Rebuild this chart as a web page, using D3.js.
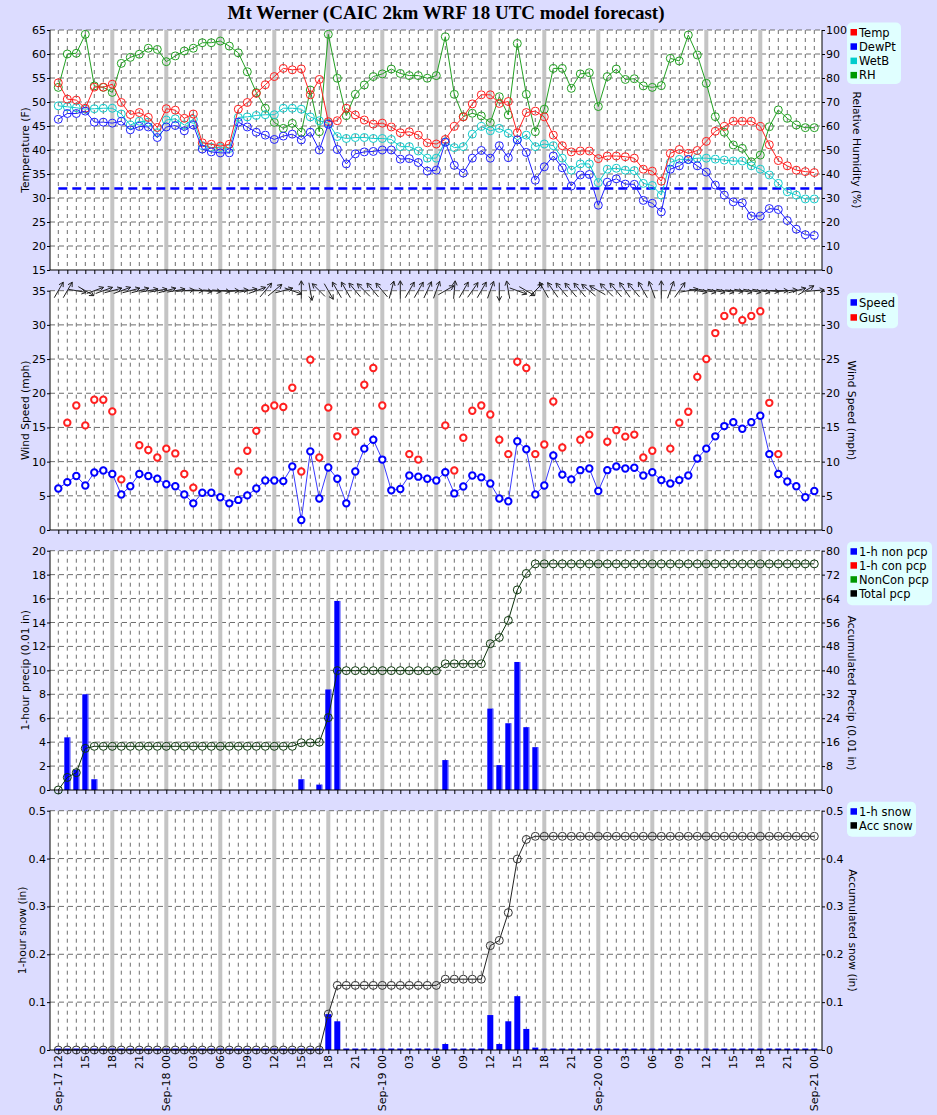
<!DOCTYPE html>
<html><head><meta charset="utf-8">
<script src="https://cdn.jsdelivr.net/npm/d3@7"></script>
<style>
body{margin:0;background:#dcdcff;}
svg{display:block;}
text{font-family:"DejaVu Sans",Verdana,sans-serif;}
</style></head><body>
<svg id="c" width="937" height="1115"></svg>
<script>
// ---------------- data ----------------
const hourIndex = d3.range(85); // Sep-17 12 UTC .. Sep-21 00 UTC, hourly
const tickLabels = ["Sep-17 12","15","18","21","Sep-18 00","03","06","09","12","15","18","21","Sep-19 00","03","06","09","12","15","18","21","Sep-20 00","03","06","09","12","15","18","21","Sep-21 00"];

const temp = [54.0,50.6,50.4,48.7,53.1,53.1,53.7,49.9,47.4,47.8, 46.8,44.7,48.6,48.3,46.6,47.5,41.5,41.2,40.8,41.2, 48.5,49.9,51.8,53.6,55.3,57.0,56.7,56.9,51.5,54.7, 45.9,46.1,48.7,47.3,46.25,45.4,45.6,44.8,43.6,43.8, 43.1,41.5,41.25,42.2,44.9,46.9,49.6,51.5,51.5,49.7, 50.1,43.6,47.8,48.1,46.9,43.1,40.9,39.6,39.8,39.8, 38.2,38.75,38.75,38.6,38.3,36.0,35.6,33.5,39.3,40.1, 39.3,39.9,41.8,43.9,44.9,46.0,46.0,46.0,44.9,41.1, 37.8,36.7,35.8,35.5,35.3];
const dewpt = [46.4,47.6,47.6,48.1,45.8,45.8,45.6,46.0,44.2,44.9, 44.8,42.6,44.8,45.1,44.0,45.2,40.2,39.6,39.4,39.4, 45.8,44.8,43.7,43.1,42.2,42.9,43.3,42.1,43.7,40.0, 45.35,40.1,37.1,39.2,39.6,39.7,40.0,40.0,38.1,38.2, 37.4,35.6,35.8,41.6,36.8,35.2,38.3,39.9,38.3,40.9, 38.4,42.1,39.5,33.7,36.5,38.75,36.3,32.5,34.8,34.9, 28.5,33.3,34.0,32.9,32.85,29.5,28.9,27.1,36.0,36.7, 38.0,36.7,35.4,32.7,30.6,29.2,29.0,26.25,26.25,27.8, 27.6,25.3,23.5,22.35,22.2];
const wetb = [49.2,49.0,48.8,48.5,48.6,48.7,48.7,47.5,45.2,46.0, 45.8,43.6,46.25,46.5,45.2,46.4,40.9,40.55,40.5,40.3, 46.8,46.9,47.2,47.35,47.35,48.7,48.7,48.5,46.9,46.1, 45.6,42.8,42.4,42.6,42.6,42.4,42.4,42.2,40.7,40.7, 39.8,38.3,38.3,41.7,40.5,40.7,43.3,44.9,44.0,44.5, 43.5,42.1,43.1,40.7,41.25,40.9,38.3,35.8,37.1,37.1, 33.2,36.0,36.2,35.8,35.7,33.05,32.6,30.6,37.4,38.05, 38.05,38.3,38.3,38.1,37.9,37.7,37.7,36.7,36.0,34.8, 33.05,31.3,30.6,29.8,29.8];
const rh = [76.1,90.0,90.3,98.2,76.7,76.1,74.0,86.1,88.6,89.9, 92.4,91.9,86.8,89.2,91.25,92.4,94.7,94.7,95.4,93.3, 90.5,82.6,73.9,67.4,61.5,59.0,61.1,57.4,75.0,57.6, 98.2,79.9,64.3,73.2,77.1,80.6,81.7,83.75,81.9,81.0, 81.0,79.9,81.0,97.2,73.2,63.9,65.3,64.2,61.4,72.2, 64.6,94.4,73.2,57.6,67.0,84.0,84.0,75.7,81.7,82.2, 68.1,80.6,83.75,79.4,79.7,76.7,76.1,76.8,88.2,87.1, 97.9,89.6,77.8,63.9,57.4,52.1,50.7,45.1,47.9,59.7, 66.7,63.2,60.4,59.3,59.3];

const speed = [6.08,7.0,7.9,6.5,8.4,8.7,8.2,5.2,6.4,8.2, 7.9,7.5,6.7,6.4,5.2,3.9,5.45,5.45,4.8,3.9, 4.4,5.06,6.08,7.25,7.25,7.15,9.3,1.46,11.5,4.6, 9.14,7.5,3.9,8.55,11.9,13.2,10.3,5.8,6.0,7.97, 7.8,7.5,7.25,8.45,5.35,6.36,7.97,7.7,6.8,4.6, 4.2,12.98,11.8,5.2,6.5,10.9,8.1,7.4,8.75,9.0, 5.7,8.75,9.3,9.0,9.1,7.97,8.45,7.3,6.8,7.3, 7.97,10.45,11.9,13.7,15.2,15.75,14.8,15.75,16.7,11.1, 8.2,7.1,6.4,4.8,5.7];
const gust = [null,15.7,18.2,15.3,19.06,19.06,17.35,7.4,null,12.4, 11.7,10.6,11.9,11.2,8.2,6.2,null,null,null,null, 8.55,11.6,14.5,17.8,18.2,18.0,20.8,8.55,24.9,10.6, 17.9,13.7,null,14.4,21.25,23.7,18.2,null,null,11.1, 10.3,null,null,15.3,8.7,13.5,17.45,18.2,16.9,13.2, 11.1,24.6,23.7,11.1,12.5,18.8,12.06,null,13.2,13.95, null,12.9,14.6,13.66,13.95,10.6,11.6,null,11.9,15.7, 17.3,22.4,25.0,28.8,31.3,32.0,30.7,31.3,32.0,18.6, 11.1,null,null,null,null];
// direction the wind arrow points to (degrees clockwise from north)
const windTo = [30,30,100,120,70,70,75,70,75,75, 80,80,75,80,85,90,95,95,95,90, 85,80,70,40,50,75,110,0,170,315, 150,330,330,320,315,320,320,15,0,30, 30,25,20,60,5,30,35,30,20,180, 350,110,120,45,330,325,320,320,320,310, 300,315,320,325,320,330,340,0,20,35, 80,100,100,100,100,95,100,100,100,95, 90,85,75,60,85];

const pcp1h = [0,4.4,1.7,8.0,0.9,0,0,0,0,0, 0,0,0,0,0,0,0,0,0,0, 0,0,0,0,0,0,0,0.9,0,0.45, 8.4,15.8,0,0,0,0,0,0,0,0, 0,0,0,2.5,0,0,0,0,6.8,2.08, 5.58,10.7,5.25,3.58,0,0,0,0,0,0, 0,0,0,0,0,0,0,0,0,0, 0,0,0,0,0,0,0,0,0,0, 0,0,0,0,0];
const pcpAcc = [0,4.2,5.8,13.9,14.6,14.6,14.6,14.6,14.6,14.6, 14.6,14.6,14.6,14.6,14.6,14.6,14.6,14.6,14.6,14.6, 14.6,14.6,14.6,14.6,14.6,14.6,14.6,15.8,15.8,16.0, 24.2,39.9,39.9,39.9,39.9,39.9,39.9,39.9,39.9,39.9, 39.9,39.9,39.9,42.2,42.2,42.2,42.2,42.2,48.9,51.0, 56.7,66.9,72.4,75.6,75.6,75.6,75.6,75.6,75.6,75.6, 75.6,75.6,75.6,75.6,75.6,75.6,75.6,75.6,75.6,75.6, 75.6,75.6,75.6,75.6,75.6,75.6,75.6,75.6,75.6,75.6, 75.6,75.6,75.6,75.6,75.6];

const snow1h = [0,0,0,0,0,0,0,0,0,0, 0,0,0,0,0,0,0,0,0,0, 0,0,0,0,0,0,0,0,0,0, 0.075,0.06,0,0,0,0,0,0,0,0, 0,0,0,0.0125,0,0,0,0,0.073,0.0125, 0.06,0.1125,0.044,0.005,0,0,0,0,0,0, 0,0,0,0,0,0,0,0,0,0, 0,0,0,0,0,0,0,0,0,0, 0,0,0,0,0];
const snowAcc = [0,0,0,0,0,0,0,0,0,0, 0,0,0,0,0,0,0,0,0,0, 0,0,0,0,0,0,0,0,0,0, 0.075,0.135,0.135,0.135,0.135,0.135,0.135,0.135,0.135,0.135, 0.135,0.135,0.135,0.148,0.148,0.148,0.148,0.148,0.218,0.229, 0.287,0.399,0.44,0.4465,0.4465,0.4465,0.4465,0.4465,0.4465,0.4465, 0.4465,0.4465,0.4465,0.4465,0.4465,0.4465,0.4465,0.4465,0.4465,0.4465, 0.4465,0.4465,0.4465,0.4465,0.4465,0.4465,0.4465,0.4465,0.4465,0.4465, 0.4465,0.4465,0.4465,0.4465,0.4465];

// ---------------- layout ----------------
const W = 937, H = 1115, X0 = 50, X1 = 822;
const svg = d3.select('#c');
svg.append('rect').attr('width', W).attr('height', H).attr('fill', '#dcdcff');
const x = d3.scaleLinear().domain([0, 84]).range([58.3, 814.3]);

svg.append('text').attr('x', 446).attr('y', 18.5).attr('text-anchor', 'middle')
  .style('font-family', '"Liberation Serif","Times New Roman",serif').style('font-weight', 'bold')
  .style('font-size', '19px').text('Mt Werner (CAIC 2km WRF 18 UTC model forecast)');

function makePanel(o) {
  const yL = d3.scaleLinear().domain(o.domL).range([o.bottom, o.top]);
  const yR = d3.scaleLinear().domain(o.domR).range([o.bottom, o.top]);
  const g = svg.append('g');
  g.append('rect').attr('x', X0).attr('y', o.top).attr('width', X1 - X0).attr('height', o.bottom - o.top).attr('fill', '#fff');
  g.selectAll('line.hg').data(o.ticksL.slice(1)).join('line')
    .attr('x1', X0).attr('x2', X1).attr('y1', d => yL(d)).attr('y2', d => yL(d))
    .attr('stroke', '#6e6e6e').attr('stroke-dasharray', '5,4').attr('stroke-width', 1);
  g.selectAll('line.vg').data(hourIndex).join('line')
    .attr('x1', d => x(d)).attr('x2', d => x(d)).attr('y1', o.top).attr('y2', o.bottom)
    .attr('stroke', '#6e6e6e').attr('stroke-dasharray', '4,4').attr('stroke-width', 1);
  g.selectAll('line.sx').data(hourIndex.filter(i => i % 6 === 0 && i > 0 && i < 84)).join('line')
    .attr('x1', d => x(d)).attr('x2', d => x(d)).attr('y1', o.top).attr('y2', o.bottom)
    .attr('stroke', '#c4c4c4').attr('stroke-width', 4);
  const data = svg.append('g');
  const axes = () => {
    const a = svg.append('g');
    const fmt = o.fmt || (d => d);
    a.append('g').attr('transform', `translate(${X0},0)`)
      .call(d3.axisLeft(yL).tickValues(o.ticksL).tickSize(3).tickPadding(1).tickFormat(fmt).tickSizeOuter(0))
      .call(s => s.select('.domain').attr('d', `M0,${o.top}V${o.bottom}`));
    a.append('g').attr('transform', `translate(${X1},0)`)
      .call(d3.axisRight(yR).tickValues(o.ticksR).tickSize(3).tickPadding(1).tickFormat(fmt).tickSizeOuter(0))
      .call(s => s.select('.domain').attr('d', `M0,${o.top}V${o.bottom}`));
    a.append('g').attr('transform', `translate(0,${o.bottom})`)
      .call(d3.axisBottom(x).tickValues(hourIndex).tickSize(4).tickFormat('').tickSizeOuter(0))
      .call(s => s.select('.domain').attr('d', `M${X0},0H${X1}`));
    a.selectAll('.tick line').attr('stroke', '#000');
    a.selectAll('text').style('font-size', '11px').style('font-family', '"DejaVu Sans",Verdana,sans-serif').attr('fill', '#000');
    a.append('text').attr('transform', `translate(${o.titleLX},${(o.top + o.bottom) / 2}) rotate(-90)`)
      .attr('text-anchor', 'middle').attr('dy', '0.35em').style('font-size', '10.7px').text(o.titleL);
    a.append('text').attr('transform', `translate(${o.titleRX},${o.titleRY || (o.top + o.bottom) / 2}) rotate(90)`)
      .attr('text-anchor', 'middle').attr('dy', '0.35em').style('font-size', '10.7px').text(o.titleR);
    // legend
    const lg = a.append('g');
    lg.append('rect').attr('x', 847).attr('y', o.leg.y).attr('width', o.leg.w).attr('height', o.leg.h)
      .attr('rx', 5).attr('fill', '#e0ffff');
    o.leg.items.forEach((it, k) => {
      const cy = o.leg.y + 10 + k * o.leg.dy;
      lg.append('rect').attr('x', 850.5).attr('y', cy - 3.5).attr('width', 6.5).attr('height', 6.5).attr('fill', it[1]);
      lg.append('text').attr('x', 859).attr('y', cy).attr('dy', '0.35em').style('font-size', '11.5px').text(it[0]);
    });
  };
  return { yL, yR, data, axes };
}

// ---------- Panel 1 ----------
const p1 = makePanel({top: 30, bottom: 270, domL: [15, 65], domR: [0, 100],
  ticksL: d3.range(15, 66, 5), ticksR: d3.range(0, 101, 10),
  titleL: 'Temperature (F)', titleR: 'Relative Humidity (%)', titleLX: 25, titleRX: 857,
  leg: {y: 22.5, w: 54, h: 61.5, dy: 14.3, items: [['Temp', '#ff0000'], ['DewPt', '#0000ff'], ['WetB', '#00cccc'], ['RH', '#009900']]}});
p1.data.append('line').attr('x1', x(0)).attr('x2', X1).attr('y1', p1.yL(32)).attr('y2', p1.yL(32))
  .attr('stroke', '#0000ff').attr('stroke-width', 2.5).attr('stroke-dasharray', '9,5');
function series(p, vals, yS, color, r) {
  const pts = hourIndex.filter(i => vals[i] != null);
  p.data.append('path').datum(pts).attr('fill', 'none').attr('stroke', color).attr('stroke-width', 1)
    .attr('d', d3.line().x(i => x(i)).y(i => yS(vals[i])));
  p.data.append('g').selectAll('circle').data(pts).join('circle')
    .attr('cx', i => x(i)).attr('cy', i => yS(vals[i])).attr('r', r)
    .attr('fill', 'none').attr('stroke', color).attr('stroke-width', 1);
}
series(p1, rh, p1.yR, '#22a022', 4);
series(p1, wetb, p1.yL, '#11cccc', 4);
series(p1, temp, p1.yL, '#ff2020', 4);
series(p1, dewpt, p1.yL, '#2020ff', 4);
p1.axes();

// ---------- Panel 2 ----------
const p2 = makePanel({top: 290.7, bottom: 530, domL: [0, 35], domR: [0, 35],
  ticksL: d3.range(0, 36, 5), ticksR: d3.range(0, 36, 5),
  titleL: 'Wind Speed (mph)', titleR: 'Wind Speed (mph)', titleLX: 25, titleRX: 852,
  leg: {y: 292.7, w: 51, h: 35.5, dy: 15, items: [['Speed', '#0000ff'], ['Gust', '#ff0000']]}});
p2.data.append('path').datum(hourIndex).attr('fill', 'none').attr('stroke', '#3a3aff').attr('stroke-width', 1)
  .attr('d', d3.line().x(i => x(i)).y(i => p2.yL(speed[i])));
p2.data.append('g').selectAll('circle').data(hourIndex.filter(i => gust[i] != null)).join('circle')
  .attr('cx', i => x(i)).attr('cy', i => p2.yL(gust[i])).attr('r', 3.2)
  .attr('fill', '#fff').attr('stroke', '#ff2020').attr('stroke-width', 2);
p2.data.append('g').selectAll('circle').data(hourIndex).join('circle')
  .attr('cx', i => x(i)).attr('cy', i => p2.yL(speed[i])).attr('r', 3.2)
  .attr('fill', '#fff').attr('stroke', '#0000ff').attr('stroke-width', 2);
// wind direction arrows
const arr = p2.data.append('g').attr('stroke', '#222').attr('stroke-width', 1).attr('fill', 'none');
hourIndex.forEach(i => {
  const th = windTo[i] * Math.PI / 180, sx = Math.sin(th), sy = -Math.cos(th), L = 18;
  const cx = x(i), cy = p2.yL(35);
  const x1 = cx - sx * L * 0.45, y1 = cy - sy * L * 0.45, x2 = cx + sx * L * 0.55, y2 = cy + sy * L * 0.55;
  const h = 5, a = 0.5, bx = -sx, by = -sy;
  const hx1 = x2 + h * (bx * Math.cos(a) - by * Math.sin(a)), hy1 = y2 + h * (bx * Math.sin(a) + by * Math.cos(a));
  const hx2 = x2 + h * (bx * Math.cos(-a) - by * Math.sin(-a)), hy2 = y2 + h * (bx * Math.sin(-a) + by * Math.cos(-a));
  arr.append('path').attr('d', `M${x1},${y1}L${x2},${y2}M${hx1},${hy1}L${x2},${y2}L${hx2},${hy2}`);
});
p2.axes();

// ---------- Panel 3 ----------
const p3 = makePanel({top: 550.7, bottom: 790, domL: [0, 20], domR: [0, 80],
  ticksL: d3.range(0, 21, 2), ticksR: d3.range(0, 81, 8),
  titleL: '1-hour precip (0.01 in)', titleR: 'Accumulated Precip (0.01 in)', titleLX: 25, titleRX: 852, titleRY: 693,
  leg: {y: 541.7, w: 85, h: 63.5, dy: 14, items: [['1-h non pcp', '#0000ff'], ['1-h con pcp', '#ff0000'], ['NonCon pcp', '#009900'], ['Total pcp', '#000000']]}});
const bars3 = hourIndex.filter(i => pcp1h[i] > 0);
p3.data.append('g').selectAll('rect').data(bars3).join('rect')
  .attr('x', i => x(i) - 3).attr('width', 6).attr('y', i => p3.yL(pcp1h[i])).attr('height', i => p3.yL(0) - p3.yL(pcp1h[i]))
  .attr('fill', '#0000ff');
p3.data.append('g').selectAll('rect').data(bars3).join('rect')
  .attr('x', i => x(i) + 2).attr('width', 1).attr('y', i => p3.yL(pcp1h[i])).attr('height', i => p3.yL(0) - p3.yL(pcp1h[i]))
  .attr('fill', '#7070ff');
p3.data.append('path').datum(hourIndex).attr('fill', 'none').attr('stroke', '#0c300c').attr('stroke-width', 1)
  .attr('d', d3.line().x(i => x(i)).y(i => p3.yR(pcpAcc[i])));
p3.data.append('g').selectAll('circle').data(hourIndex).join('circle')
  .attr('cx', i => x(i)).attr('cy', i => p3.yR(pcpAcc[i])).attr('r', 4)
  .attr('fill', 'none').attr('stroke', '#0e3a0e').attr('stroke-width', 1);
p3.axes();

// ---------- Panel 4 ----------
const p4 = makePanel({top: 810.7, bottom: 1050, domL: [0, 0.5], domR: [0, 0.5],
  ticksL: [0, 0.1, 0.2, 0.3, 0.4, 0.5], ticksR: [0, 0.1, 0.2, 0.3, 0.4, 0.5],
  fmt: d => d === 0 ? '0' : d.toFixed(1),
  titleL: '1-hour snow (in)', titleR: 'Accumulated snow (in)', titleLX: 22.5, titleRX: 853,
  leg: {y: 801.7, w: 69, h: 35, dy: 14, items: [['1-h snow', '#0000ff'], ['Acc snow', '#000000']]}});
p4.data.append('g').selectAll('rect').data(hourIndex).join('rect')
  .attr('x', i => x(i) - 3).attr('width', 6)
  .attr('y', i => Math.min(p4.yL(snow1h[i]), p4.yL(0) - 1.5)).attr('height', i => Math.max(p4.yL(0) - p4.yL(snow1h[i]), 1.5))
  .attr('fill', '#0000ff');
p4.data.append('path').datum(hourIndex).attr('fill', 'none').attr('stroke', '#222').attr('stroke-width', 1)
  .attr('d', d3.line().x(i => x(i)).y(i => p4.yR(snowAcc[i])));
p4.data.append('g').selectAll('circle').data(hourIndex).join('circle')
  .attr('cx', i => x(i)).attr('cy', i => p4.yR(snowAcc[i])).attr('r', 4)
  .attr('fill', 'none').attr('stroke', '#333').attr('stroke-width', 1);
p4.axes();

// bottom time labels
svg.append('g').selectAll('text').data(tickLabels).join('text')
  .attr('transform', (d, k) => `translate(${x(k * 3)},1055) rotate(-90)`)
  .attr('text-anchor', 'end').attr('dy', '0.35em').style('font-size', '11px').text(d => d);
</script>
</body></html>
